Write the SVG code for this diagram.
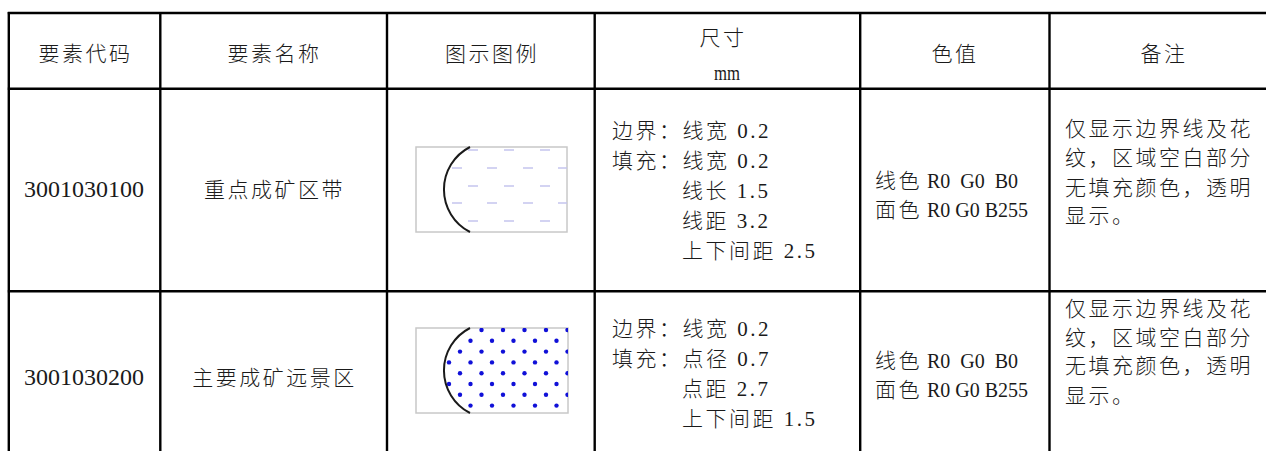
<svg xmlns="http://www.w3.org/2000/svg" width="1266" height="451" viewBox="0 0 1266 451">
  <style>
    .t { font-family: "Liberation Serif", "Noto Sans CJK SC", serif; font-size: 21px; font-weight: 300; letter-spacing: 2.5px; fill: #1a1a1a; }
    .c { text-anchor: middle; }
    .code { font-family: "Liberation Serif", serif; font-size: 24px; fill: #1a1a1a; text-anchor: middle; }
    .lat { font-size: 20px; letter-spacing: 0px; }
    .grid { stroke: #000; stroke-width: 2.4; fill: none; }
    .frame { fill: #fff; stroke: #c8c8c8; stroke-width: 1.5; }
    .arc { fill: none; stroke: #1a1a1a; stroke-width: 2; }
    .dash { stroke: #c4c4ee; stroke-width: 1.6; }
    .dot { fill: #1010d8; }
  </style>
  <defs>
    <clipPath id="clip1">
      <path d="M470,147 A47.7,47.7 0 0 0 470,232 L567,232 L567,147 Z"/>
    </clipPath>
    <clipPath id="clip2">
      <path d="M470,328 A47.7,47.7 0 0 0 470,413 L568,413 L568,328 Z"/>
    </clipPath>
  </defs>
  <rect width="1266" height="451" fill="#fff"/>

  <g id="grid">
    <line class="grid" x1="7.8" y1="13" x2="1266" y2="13"/>
    <line class="grid" x1="7.8" y1="88.7" x2="1266" y2="88.7"/>
    <line class="grid" x1="7.8" y1="291.3" x2="1266" y2="291.3"/>
    <line class="grid" x1="8.8" y1="12" x2="8.8" y2="451"/>
    <line class="grid" x1="160.3" y1="12" x2="160.3" y2="451"/>
    <line class="grid" x1="387" y1="12" x2="387" y2="451"/>
    <line class="grid" x1="594.7" y1="12" x2="594.7" y2="451"/>
    <line class="grid" x1="860.2" y1="12" x2="860.2" y2="451"/>
    <line class="grid" x1="1049.5" y1="12" x2="1049.5" y2="451"/>
  </g>

  <g id="header">
    <text class="t c" x="85.5" y="61">要素代码</text>
    <text class="t c" x="274.5" y="61">要素名称</text>
    <text class="t c" x="492" y="61">图示图例</text>
    <text class="t c" x="723" y="45">尺寸</text>
    <text class="t c" x="727" y="80" textLength="26" lengthAdjust="spacingAndGlyphs" style="letter-spacing:0">mm</text>
    <text class="t c" x="955" y="61">色值</text>
    <text class="t c" x="1164" y="61">备注</text>
  </g>

  <g id="row1">
    <text class="code" x="84" y="197">3001030100</text>
    <text class="t c" x="274.5" y="197">重点成矿区带</text>
    <g id="legend1">
      <rect class="frame" x="416" y="147" width="151" height="85"/>
      <g clip-path="url(#clip1)">
        <line class="dash" x1="468" y1="150" x2="478" y2="150"/>
        <line class="dash" x1="504" y1="150" x2="514" y2="150"/>
        <line class="dash" x1="540" y1="150" x2="550" y2="150"/>
        <line class="dash" x1="452" y1="168" x2="462" y2="168"/>
        <line class="dash" x1="487" y1="168" x2="497" y2="168"/>
        <line class="dash" x1="523" y1="168" x2="533" y2="168"/>
        <line class="dash" x1="558" y1="168" x2="568" y2="168"/>
        <line class="dash" x1="468" y1="186" x2="478" y2="186"/>
        <line class="dash" x1="504" y1="186" x2="514" y2="186"/>
        <line class="dash" x1="540" y1="186" x2="550" y2="186"/>
        <line class="dash" x1="452" y1="203" x2="462" y2="203"/>
        <line class="dash" x1="487" y1="203" x2="497" y2="203"/>
        <line class="dash" x1="523" y1="203" x2="533" y2="203"/>
        <line class="dash" x1="558" y1="203" x2="568" y2="203"/>
        <line class="dash" x1="468" y1="221" x2="478" y2="221"/>
        <line class="dash" x1="504" y1="221" x2="514" y2="221"/>
        <line class="dash" x1="540" y1="221" x2="550" y2="221"/>
      </g>
      <path class="arc" d="M470,147 A47.7,47.7 0 0 0 470,232"/>
    </g>
    <text class="t" x="612" y="138">边界：线宽 0.2</text>
    <text class="t" x="612" y="168">填充：线宽 0.2</text>
    <text class="t" x="682" y="198">线长 1.5</text>
    <text class="t" x="682" y="228">线距 3.2</text>
    <text class="t" x="682" y="258">上下间距 2.5</text>
    <text class="t" x="875" y="188" xml:space="preserve">线色<tspan class="lat"> R0  G0  B0</tspan></text>
    <text class="t" x="875" y="217" xml:space="preserve">面色<tspan class="lat"> R0 G0 B255</tspan></text>
    <text class="t" x="1065" y="136">仅显示边界线及花</text>
    <text class="t" x="1065" y="165">纹，区域空白部分</text>
    <text class="t" x="1065" y="195">无填充颜色，透明</text>
    <text class="t" x="1065" y="223">显示。</text>
  </g>

  <g id="row2">
    <text class="code" x="84" y="385">3001030200</text>
    <text class="t c" x="274.5" y="385">主要成矿远景区</text>
    <g id="legend2">
      <rect class="frame" x="416" y="328" width="152" height="85"/>
      <g clip-path="url(#clip2)">
        <circle class="dot" cx="460" cy="330" r="2.2"/><circle class="dot" cx="481.5" cy="330" r="2.2"/><circle class="dot" cx="503" cy="330" r="2.2"/><circle class="dot" cx="524.5" cy="330" r="2.2"/><circle class="dot" cx="546" cy="330" r="2.2"/><circle class="dot" cx="567.5" cy="330" r="2.2"/>
        <circle class="dot" cx="449" cy="340.8" r="2.2"/><circle class="dot" cx="470.5" cy="340.8" r="2.2"/><circle class="dot" cx="492" cy="340.8" r="2.2"/><circle class="dot" cx="513.5" cy="340.8" r="2.2"/><circle class="dot" cx="535" cy="340.8" r="2.2"/><circle class="dot" cx="556.5" cy="340.8" r="2.2"/>
        <circle class="dot" cx="460" cy="351.6" r="2.2"/><circle class="dot" cx="481.5" cy="351.6" r="2.2"/><circle class="dot" cx="503" cy="351.6" r="2.2"/><circle class="dot" cx="524.5" cy="351.6" r="2.2"/><circle class="dot" cx="546" cy="351.6" r="2.2"/><circle class="dot" cx="567.5" cy="351.6" r="2.2"/>
        <circle class="dot" cx="449" cy="362.4" r="2.2"/><circle class="dot" cx="470.5" cy="362.4" r="2.2"/><circle class="dot" cx="492" cy="362.4" r="2.2"/><circle class="dot" cx="513.5" cy="362.4" r="2.2"/><circle class="dot" cx="535" cy="362.4" r="2.2"/><circle class="dot" cx="556.5" cy="362.4" r="2.2"/>
        <circle class="dot" cx="460" cy="373.2" r="2.2"/><circle class="dot" cx="481.5" cy="373.2" r="2.2"/><circle class="dot" cx="503" cy="373.2" r="2.2"/><circle class="dot" cx="524.5" cy="373.2" r="2.2"/><circle class="dot" cx="546" cy="373.2" r="2.2"/><circle class="dot" cx="567.5" cy="373.2" r="2.2"/>
        <circle class="dot" cx="449" cy="384" r="2.2"/><circle class="dot" cx="470.5" cy="384" r="2.2"/><circle class="dot" cx="492" cy="384" r="2.2"/><circle class="dot" cx="513.5" cy="384" r="2.2"/><circle class="dot" cx="535" cy="384" r="2.2"/><circle class="dot" cx="556.5" cy="384" r="2.2"/>
        <circle class="dot" cx="460" cy="394.8" r="2.2"/><circle class="dot" cx="481.5" cy="394.8" r="2.2"/><circle class="dot" cx="503" cy="394.8" r="2.2"/><circle class="dot" cx="524.5" cy="394.8" r="2.2"/><circle class="dot" cx="546" cy="394.8" r="2.2"/><circle class="dot" cx="567.5" cy="394.8" r="2.2"/>
        <circle class="dot" cx="449" cy="405.6" r="2.2"/><circle class="dot" cx="470.5" cy="405.6" r="2.2"/><circle class="dot" cx="492" cy="405.6" r="2.2"/><circle class="dot" cx="513.5" cy="405.6" r="2.2"/><circle class="dot" cx="535" cy="405.6" r="2.2"/><circle class="dot" cx="556.5" cy="405.6" r="2.2"/>
      </g>
      <path class="arc" d="M470,328 A47.7,47.7 0 0 0 470,413"/>
    </g>
    <text class="t" x="612" y="336">边界：线宽 0.2</text>
    <text class="t" x="612" y="366">填充：点径 0.7</text>
    <text class="t" x="682" y="396">点距 2.7</text>
    <text class="t" x="682" y="426">上下间距 1.5</text>
    <text class="t" x="875" y="368" xml:space="preserve">线色<tspan class="lat"> R0  G0  B0</tspan></text>
    <text class="t" x="875" y="397" xml:space="preserve">面色<tspan class="lat"> R0 G0 B255</tspan></text>
    <text class="t" x="1065" y="316">仅显示边界线及花</text>
    <text class="t" x="1065" y="345">纹，区域空白部分</text>
    <text class="t" x="1065" y="373">无填充颜色，透明</text>
    <text class="t" x="1065" y="403">显示。</text>
  </g>
</svg>
